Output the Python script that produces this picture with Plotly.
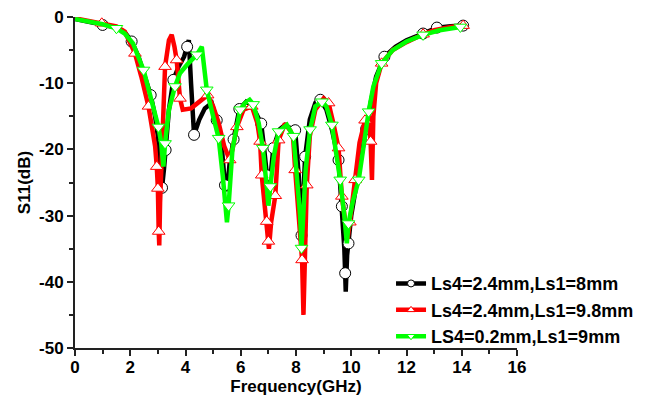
import plotly.graph_objects as go

# ---- data ----
f_black = [0.0, 0.5, 1.0, 1.5, 1.8, 2.05, 2.3, 2.5, 2.74, 2.9, 3.0, 3.1, 3.15, 3.22, 3.28, 3.4, 3.56, 3.75, 3.95, 4.06, 4.12, 4.2, 4.31, 4.5, 4.7, 4.95, 5.13, 5.3, 5.43, 5.5, 5.6, 5.74, 5.95, 6.2, 6.35, 6.55, 6.74, 6.85, 6.93, 7.0, 7.08, 7.18, 7.4, 7.6, 7.8, 7.97, 8.1, 8.2, 8.33, 8.5, 8.7, 8.88, 9.1, 9.3, 9.54, 9.66, 9.75, 9.78, 9.8, 9.85, 9.9, 10.0, 10.2, 10.4, 10.54, 10.7, 10.9, 11.2, 11.6, 12.0, 12.6, 13.1, 13.6, 14.05]
s_black = [-0.3, -0.7, -1.2, -1.6, -2.3, -3.7, -6.0, -8.5, -11.8, -15.0, -18.0, -23.0, -25.8, -23.0, -20.1, -14.0, -9.5, -7.5, -6.0, -4.5, -3.5, -10.0, -17.8, -15.5, -13.8, -13.0, -15.6, -19.0, -25.4, -26.3, -22.0, -18.5, -13.9, -12.8, -13.2, -14.5, -16.1, -20.0, -23.9, -26.0, -24.0, -19.8, -17.0, -16.3, -16.8, -17.1, -24.0, -33.0, -21.1, -15.5, -13.0, -12.5, -14.0, -17.0, -21.6, -28.6, -35.0, -38.7, -41.5, -36.0, -34.2, -30.0, -25.0, -20.0, -16.9, -13.0, -9.0, -6.0, -4.5, -3.5, -2.5, -1.6, -1.4, -1.3]
mk_black = [2, 5, 8, 12, 14, 16, 19, 22, 26, 28, 31, 32, 36, 38, 41, 45, 47, 48, 51, 54, 55, 57, 60, 64, 67, 70, 71, 73]

f_red = [0.0, 0.5, 0.97, 1.5, 1.8, 2.17, 2.4, 2.66, 2.8, 2.9, 2.96, 3.0, 3.03, 3.05, 3.08, 3.15, 3.26, 3.4, 3.5, 3.6, 3.68, 3.8, 3.9, 4.2, 4.5, 4.8, 5.0, 5.2, 5.4, 5.6, 5.7, 5.86, 6.1, 6.4, 6.6, 6.7, 6.76, 6.85, 6.94, 7.0, 7.02, 7.1, 7.25, 7.37, 7.6, 7.8, 7.9, 7.97, 8.1, 8.22, 8.27, 8.32, 8.39, 8.5, 8.7, 9.0, 9.18, 9.35, 9.54, 9.66, 9.8, 9.87, 9.95, 10.14, 10.3, 10.5, 10.65, 10.7, 10.75, 10.8, 10.9, 11.1, 11.5, 12.0, 12.6, 13.0, 13.6, 14.05]
s_red = [-0.2, -0.6, -0.95, -1.4, -2.2, -5.5, -9.0, -13.5, -17.0, -19.5, -22.6, -25.9, -32.4, -34.5, -28.0, -18.0, -7.5, -3.5, -2.7, -4.5, -6.5, -12.3, -14.0, -13.8, -12.8, -11.8, -13.5, -16.0, -19.5, -21.6, -20.0, -16.6, -14.0, -13.5, -16.0, -18.8, -23.9, -28.0, -30.9, -33.9, -35.0, -31.0, -27.0, -18.6, -16.1, -17.2, -18.5, -23.1, -30.0, -36.7, -45.0, -35.0, -25.4, -18.0, -14.0, -12.3, -13.0, -16.0, -19.8, -27.1, -32.0, -33.5, -31.0, -24.6, -19.0, -15.6, -15.0, -18.8, -24.6, -15.0, -10.0, -7.0, -5.0, -3.8, -2.6, -2.0, -1.5, -1.3]
mk_red = [2, 5, 7, 10, 11, 12, 16, 20, 21, 25, 29, 31, 33, 35, 36, 38, 39, 42, 43, 47, 49, 52, 56, 58, 59, 62, 63, 65, 67, 71, 74, 77]

f_green = [0.0, 0.3, 0.7, 1.0, 1.5, 1.8, 2.1, 2.3, 2.48, 2.7, 2.85, 3.02, 3.12, 3.2, 3.26, 3.4, 3.62, 3.8, 4.1, 4.41, 4.59, 4.77, 5.0, 5.2, 5.35, 5.45, 5.5, 5.56, 5.7, 5.98, 6.15, 6.32, 6.45, 6.65, 6.8, 6.95, 7.0, 7.07, 7.2, 7.37, 7.67, 7.91, 8.05, 8.15, 8.2, 8.25, 8.35, 8.51, 8.7, 8.94, 9.1, 9.3, 9.45, 9.6, 9.75, 9.84, 9.9, 10.05, 10.27, 10.45, 10.63, 10.8, 11.1, 11.5, 12.0, 12.6, 13.2, 13.95]
s_green = [-0.3, -0.5, -0.8, -1.1, -1.7, -2.5, -4.0, -6.0, -8.0, -11.5, -14.0, -16.6, -19.0, -22.6, -19.1, -14.0, -10.5, -8.5, -7.0, -5.7, -4.5, -11.0, -15.0, -18.3, -24.0, -28.0, -31.0, -28.5, -20.0, -14.0, -13.0, -12.5, -13.2, -16.0, -19.8, -26.0, -28.5, -25.6, -21.0, -17.3, -16.3, -18.0, -24.0, -30.0, -34.9, -31.0, -23.0, -17.0, -13.5, -12.8, -13.5, -16.3, -20.0, -24.6, -30.0, -34.2, -31.2, -28.0, -24.6, -19.0, -14.3, -10.5, -7.0, -5.0, -3.7, -2.7, -2.0, -1.5]
mk_green = [4, 8, 11, 14, 16, 19, 21, 23, 27, 29, 32, 34, 37, 39, 41, 44, 47, 49, 51, 53, 56, 58, 60, 62, 65, 67]

labels = ["Ls4=2.4mm,Ls1=8mm", "Ls4=2.4mm,Ls1=9.8mm", "LS4=0.2mm,Ls1=9mm"]
x_ticks = [0, 2, 4, 6, 8, 10, 12, 14, 16]
y_ticks = [0, -10, -20, -30, -40, -50]
y_ticktext = ["0", "-10", "-20", "-30", "-40", "-50"]

series = [
    (f_black, s_black, mk_black, "#000000", "circle", labels[0]),
    (f_red, s_red, mk_red, "#ff0000", "triangle-up", labels[1]),
    (f_green, s_green, mk_green, "#00ff00", "triangle-down", labels[2]),
]

fig = go.Figure()
for fx, sy, mk, col, sym, name in series:
    fig.add_trace(go.Scatter(x=fx, y=sy, mode="lines", line=dict(color=col, width=4.5),
                             showlegend=False, hoverinfo="skip", cliponaxis=False))
    fig.add_trace(go.Scatter(x=[fx[i] for i in mk], y=[sy[i] for i in mk], mode="markers",
                             marker=dict(symbol=sym, size=11, color="white",
                                         line=dict(color=col, width=1)),
                             showlegend=False, cliponaxis=False))
for fx, sy, mk, col, sym, name in series:
    fig.add_trace(go.Scatter(x=[None], y=[None], mode="lines+markers", name=name,
                             line=dict(color=col, width=4.5),
                             marker=dict(symbol=sym, size=7, color="white",
                                         line=dict(color=col, width=1))))

tick_font = dict(family="Liberation Sans, Arial, sans-serif", size=17, color="black", weight="bold")
leg_font = dict(family="Liberation Sans, Arial, sans-serif", size=18, color="black", weight="bold")
fig.update_layout(
    width=648, height=398,
    margin=dict(l=75, r=131, t=17, b=50, autoexpand=False),
    paper_bgcolor="white", plot_bgcolor="white",
    font=tick_font,
    xaxis=dict(range=[0, 16], tickvals=x_ticks, ticks="outside", ticklen=6, tickwidth=1.5,
               tickcolor="#222", showline=True, linecolor="#222", linewidth=1.8,
               showgrid=False, zeroline=False, tickfont=tick_font, automargin=False,
               ticklabelstandoff=-3,
               minor=dict(dtick=1, ticks="outside", ticklen=4, tickwidth=1.5, tickcolor="#222"),
               title=dict(text="Frequency(GHz)", font=tick_font, standoff=0)),
    yaxis=dict(range=[-50, 0], tickvals=y_ticks, ticktext=y_ticktext, ticks="outside", ticklen=6,
               tickwidth=1.5, tickcolor="#222", showline=True, linecolor="#222", linewidth=1.8,
               showgrid=False, zeroline=False, tickfont=tick_font, automargin=False,
               minor=dict(dtick=5, ticks="outside", ticklen=4, tickwidth=1.5, tickcolor="#222"),
               title=dict(text="S11(dB)", font=tick_font, standoff=4)),
    legend=dict(x=0.715, y=0.25, xanchor="left", yanchor="top", bgcolor="rgba(0,0,0,0)",
                font=leg_font, tracegroupgap=0),
)
fig.write_html("out.html")
